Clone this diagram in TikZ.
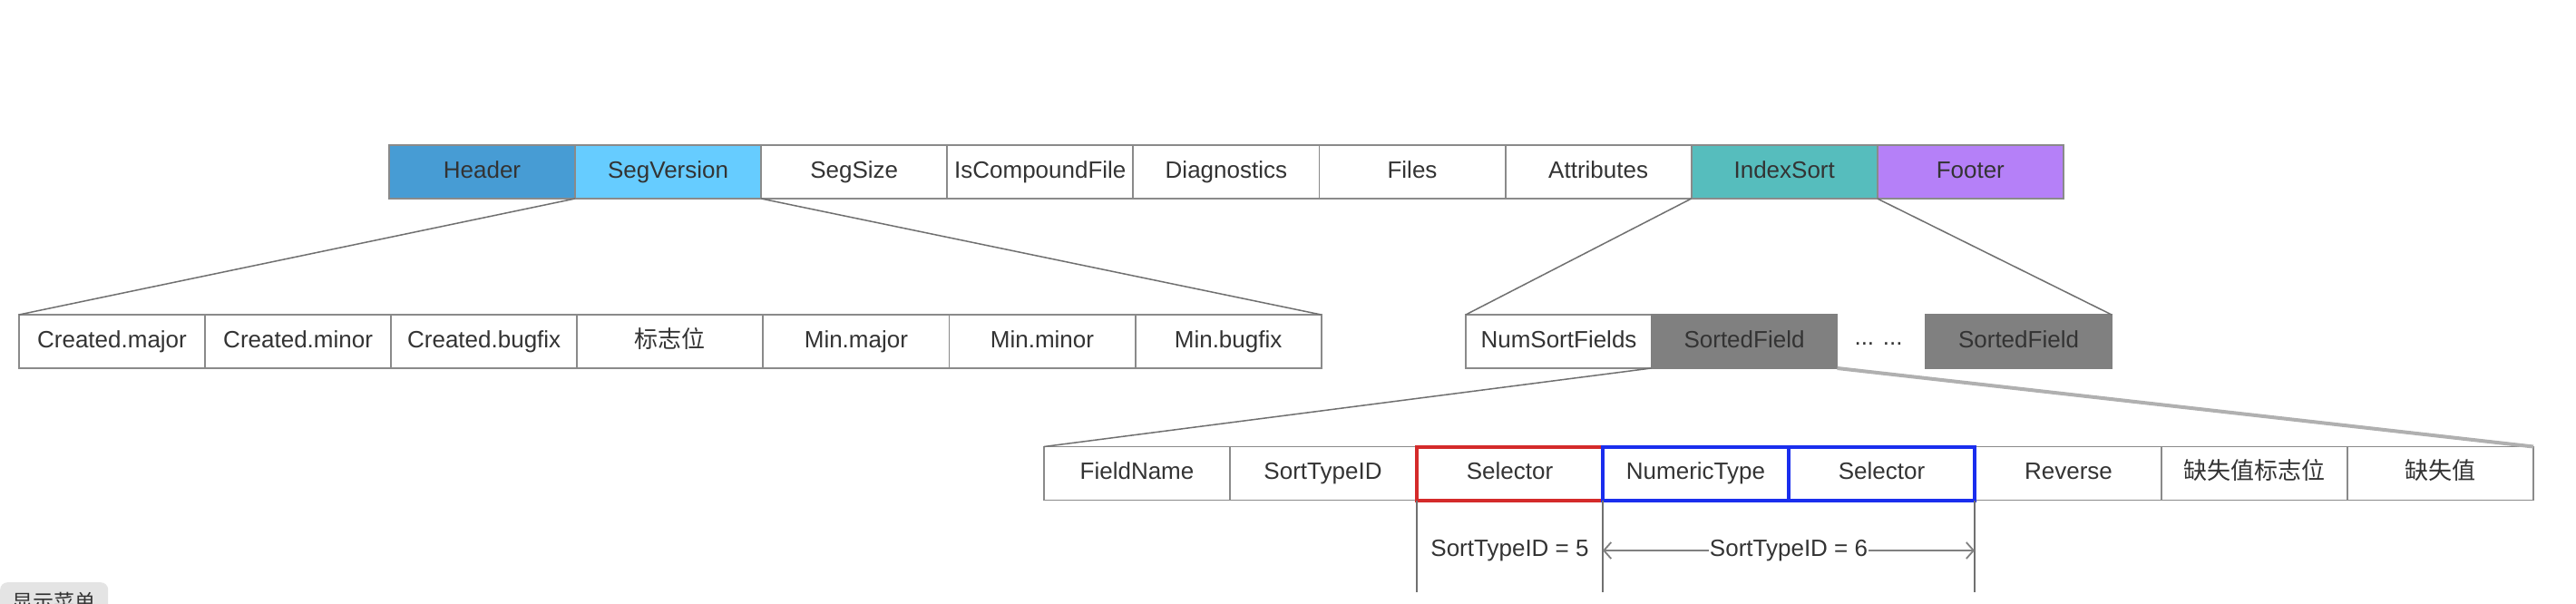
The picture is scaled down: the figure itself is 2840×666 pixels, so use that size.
\documentclass[tikz,border=0pt]{standalone}
\usepackage{fontspec}
\setmainfont{Liberation Sans}
\newfontfamily\cjk{Noto Sans CJK SC}
\usetikzlibrary{arrows.meta}
\definecolor{bordergray}{HTML}{8A8A8A}
\definecolor{txt}{HTML}{333333}
\definecolor{hdr}{HTML}{479CD4}
\definecolor{segv}{HTML}{66CCFF}
\definecolor{idx}{HTML}{56BDBD}
\definecolor{ftr}{HTML}{B580F8}
\definecolor{sfgray}{HTML}{808080}
\definecolor{redb}{HTML}{D42A2A}
\definecolor{blueb}{HTML}{1A2EEE}
\definecolor{linegray}{HTML}{707070}
\definecolor{thickgray}{HTML}{B0B0B0}
\definecolor{btngray}{HTML}{E4E4E4}
\begin{document}
\begin{tikzpicture}[x=1pt,y=-1pt,
  cell/.style={draw=bordergray, line width=1.8pt, minimum width=205pt, minimum height=59pt,
    inner sep=0pt, outer sep=0pt, text=txt, font=\fontsize{26}{30}\selectfont,
    text height=19pt, text depth=6pt},
  redcell/.style={cell, draw=redb, line width=4pt},
  bluecell/.style={cell, draw=blueb, line width=4pt},
  conn/.style={draw=linegray, line width=1.5pt},
  thickconn/.style={draw=thickgray, line width=4pt},
  vline/.style={draw=linegray, line width=1.5pt},
  dimarrow/.style={draw=gray, line width=1.8pt, {Straight Barb[length=8pt,width=18pt]}-{Straight Barb[length=8pt,width=18pt]}},
  lbl/.style={text=txt, font=\fontsize{26}{30}\selectfont, inner sep=2pt, text height=19pt, text depth=6pt},
]
\useasboundingbox (0,0) rectangle (2840,666);
\fill[white] (0,0) rectangle (2840,666);

% top row
\node[cell, fill=hdr]  (header) at (531.5,189.5) {Header};
\node[cell, fill=segv] (segv)   at (736.6,189.5) {SegVersion};
\node[cell]            (segsize) at (941.7,189.5) {SegSize};
\node[cell]            (iscf)   at (1146.8,189.5) {IsCompoundFile};
\node[cell]            (diag)   at (1351.9,189.5) {Diagnostics};
\node[cell]            (files)  at (1557.0,189.5) {Files};
\node[cell]            (attr)   at (1762.1,189.5) {Attributes};
\node[cell, fill=idx]  (idx)    at (1967.2,189.5) {IndexSort};
\node[cell, fill=ftr]  (footer) at (2172.3,189.5) {Footer};

% left second row
\node[cell] (cmaj) at (123.5,376.5) {Created.major};
\node[cell] (cmin) at (328.6,376.5) {Created.minor};
\node[cell] (cbug) at (533.7,376.5) {Created.bugfix};
\node[cell] (flag) at (738.8,376.5) {\cjk 标志位};
\node[cell] (mmaj) at (943.9,376.5) {Min.major};
\node[cell] (mmin) at (1149.0,376.5) {Min.minor};
\node[cell] (mbug) at (1354.1,376.5) {Min.bugfix};

% right second row
\node[cell] (nsf) at (1718.5,376.5) {NumSortFields};
\node[cell, fill=sfgray, draw=sfgray] (sf1) at (1923.0,376.5) {SortedField};
\node[lbl] (dots) at (2071,376.5) {\raisebox{3pt}{... ...}};
\node[cell, fill=sfgray, draw=sfgray] (sf2) at (2225.5,376.5) {SortedField};

% third row
\node[cell] (fname) at (1253.5,522) {FieldName};
\node[cell] (stid)  at (1458.5,522) {SortTypeID};
\node[cell] (rev)   at (2280.5,522) {Reverse};
\node[cell] (mflag) at (2485.5,522) {\cjk 缺失值标志位};
\node[cell] (mval)  at (2690.5,522) {\cjk 缺失值};
\node[redcell]  (sel1) at (1664.5,522) {Selector};
\node[bluecell] (numt) at (1869.5,522) {NumericType};
\node[bluecell] (sel2) at (2074.5,522) {Selector};

% connectors
\draw[conn] (segv.south west) -- (cmaj.north west);
\draw[conn] (segv.south east) -- (mbug.north east);
\draw[conn] (idx.south west) -- (nsf.north west);
\draw[conn] (idx.south east) -- (sf2.north east);
\draw[conn] (sf1.south west) -- (fname.north west);
\draw[thickconn] (sf1.south east) -- (mval.north east);

% dimension lines
\coordinate (v1) at (1562,653);
\coordinate (v2) at (1767,653);
\coordinate (v3) at (2177,653);
\draw[vline] (sel1.south west) -- (v1);
\draw[vline] (sel1.south east) -- (v2);
\draw[vline] (sel2.south east) -- (v3);
\node[lbl] (st5) at (1664.5,607) {SortTypeID = 5};
\coordinate (a1) at (1767,607);
\coordinate (a2) at (2177,607);
\draw[dimarrow] (a1) -- (a2);
\node[lbl, fill=white, inner xsep=1pt] (st6) at (1972,607) {SortTypeID = 6};

% menu button
\node[fill=btngray, rounded corners=8pt, minimum width=119pt, minimum height=44pt, inner sep=0pt,
  text=txt, font=\cjk\fontsize{23}{26}\selectfont, anchor=north west] (menu) at (0,642) {\raisebox{-4pt}{显示菜单}};
\end{tikzpicture}
\end{document}
